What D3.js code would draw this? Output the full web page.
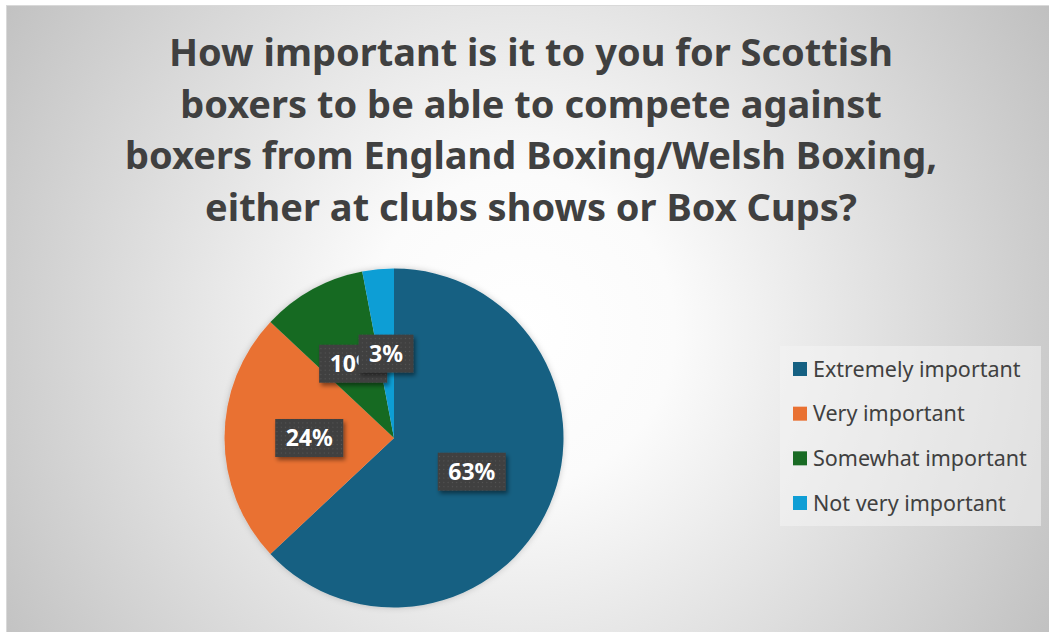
<!DOCTYPE html>
<html>
<head>
<meta charset="utf-8">
<script src="https://cdn.jsdelivr.net/npm/d3@7"></script>
<style>
  html, body { margin: 0; padding: 0; background: #ffffff; }
  svg { display: block; }
</style>
</head>
<body>
<svg id="chart" width="1049" height="632"></svg>
<script>
const titleLines = [
  "How important is it to you for Scottish",
  "boxers to be able to compete against",
  "boxers from England Boxing/Welsh Boxing,",
  "either at clubs shows or Box Cups?"
];
const categories = ["Extremely important", "Very important", "Somewhat important", "Not very important"];
const values = [63, 24, 10, 3];
const colors = ["#156082", "#E97132", "#196B24", "#0F9ED5"];

const W = 1049, H = 632;
const svg = d3.select("#chart");
const defs = svg.append("defs");

const grad = defs.append("radialGradient")
  .attr("id", "bg").attr("gradientUnits", "userSpaceOnUse")
  .attr("cx", 520).attr("cy", 330).attr("r", 620);
grad.append("stop").attr("offset", "0").attr("stop-color", "#ffffff");
grad.append("stop").attr("offset", "0.25").attr("stop-color", "#fbfbfb");
grad.append("stop").attr("offset", "1").attr("stop-color", "#c0c0c0");

const pat = defs.append("pattern")
  .attr("id", "dots").attr("patternUnits", "userSpaceOnUse")
  .attr("width", 4.3).attr("height", 4.3);
pat.append("rect").attr("width", 4.3).attr("height", 4.3).attr("fill", "#404040");
pat.append("rect").attr("x", 1.6).attr("y", 1.6).attr("width", 1.1).attr("height", 1.1).attr("fill", "#575757");

const sh = defs.append("filter").attr("id", "shadow")
  .attr("x", "-30%").attr("y", "-30%").attr("width", "160%").attr("height", "170%");
sh.append("feDropShadow").attr("dx", 2).attr("dy", 3).attr("stdDeviation", 2)
  .attr("flood-color", "#000").attr("flood-opacity", 0.45);

const pieSh = defs.append("filter").attr("id", "pieshadow")
  .attr("x", "-10%").attr("y", "-10%").attr("width", "120%").attr("height", "120%");
pieSh.append("feDropShadow").attr("dx", 0).attr("dy", 0).attr("stdDeviation", 3)
  .attr("flood-color", "#000").attr("flood-opacity", 0.2);

// chart area background
svg.append("rect")
  .attr("x", 6.5).attr("y", 5.5).attr("width", W - 6).attr("height", H - 5)
  .attr("fill", "url(#bg)").attr("stroke", "#d9d9d9").attr("stroke-width", 1);

// title
svg.append("g").selectAll("text").data(titleLines).join("text")
  .attr("x", 531)
  .attr("y", (d, i) => 66 + i * 51.5)
  .attr("text-anchor", "middle")
  .attr("font-family", "'Noto Sans', 'Liberation Sans', Arial, sans-serif")
  .attr("font-weight", "bold")
  .attr("font-size", "38px")
  .attr("fill", "#404040")
  .text(d => d);

// pie
const cx = 394, cy = 438, R = 169.5;
const pie = d3.pie().sort(null).value(d => d);
const arcs = pie(values);
const arc = d3.arc().innerRadius(0).outerRadius(R);
const labelArc = d3.arc().innerRadius(0).outerRadius(R);

const g = svg.append("g").attr("transform", `translate(${cx},${cy})`);
g.append("g").attr("filter", "url(#pieshadow)")
  .selectAll("path").data(arcs).join("path")
  .attr("d", arc)
  .attr("fill", (d, i) => colors[i]);

const total = d3.sum(values);
const fmt = d3.format(".0%");
const labels = g.append("g").selectAll("g").data(arcs).join("g")
  .attr("transform", d => {
    const c = labelArc.centroid(d);
    return `translate(${c[0]},${c[1]})`;
  });
labels.each(function(d) {
  const sel = d3.select(this);
  const rect = sel.append("rect").attr("fill", "url(#dots)").attr("filter", "url(#shadow)");
  const t = sel.append("text")
    .attr("text-anchor", "middle")
    .attr("y", 8)
    .attr("font-family", "'Noto Sans', 'Liberation Sans', Arial, sans-serif")
    .attr("font-weight", "bold")
    .attr("font-size", "23px")
    .attr("fill", "#ffffff")
    .text(fmt(d.data / total));
  const w = t.node().getComputedTextLength() + 21;
  const h = 38;
  rect.attr("x", -w / 2).attr("y", -h / 2).attr("width", w).attr("height", h);
});

// legend
const legend = svg.append("g");
legend.append("rect")
  .attr("x", 780).attr("y", 346).attr("width", 261).attr("height", 180)
  .attr("fill", "#f4f4f4").attr("fill-opacity", 0.55);
const rowY = d3.scalePoint().domain(categories).range([369, 503]);
const rows = legend.selectAll("g").data(categories).join("g")
  .attr("transform", d => `translate(0,${rowY(d)})`);
rows.append("rect")
  .attr("x", 793).attr("y", -7).attr("width", 14).attr("height", 14)
  .attr("fill", (d, i) => colors[i]);
rows.append("text")
  .attr("x", 813).attr("y", 7.5)
  .attr("font-family", "'Noto Sans', 'Liberation Sans', Arial, sans-serif")
  .attr("font-size", "21.5px")
  .attr("fill", "#404040")
  .text(d => d);
</script>
</body>
</html>
